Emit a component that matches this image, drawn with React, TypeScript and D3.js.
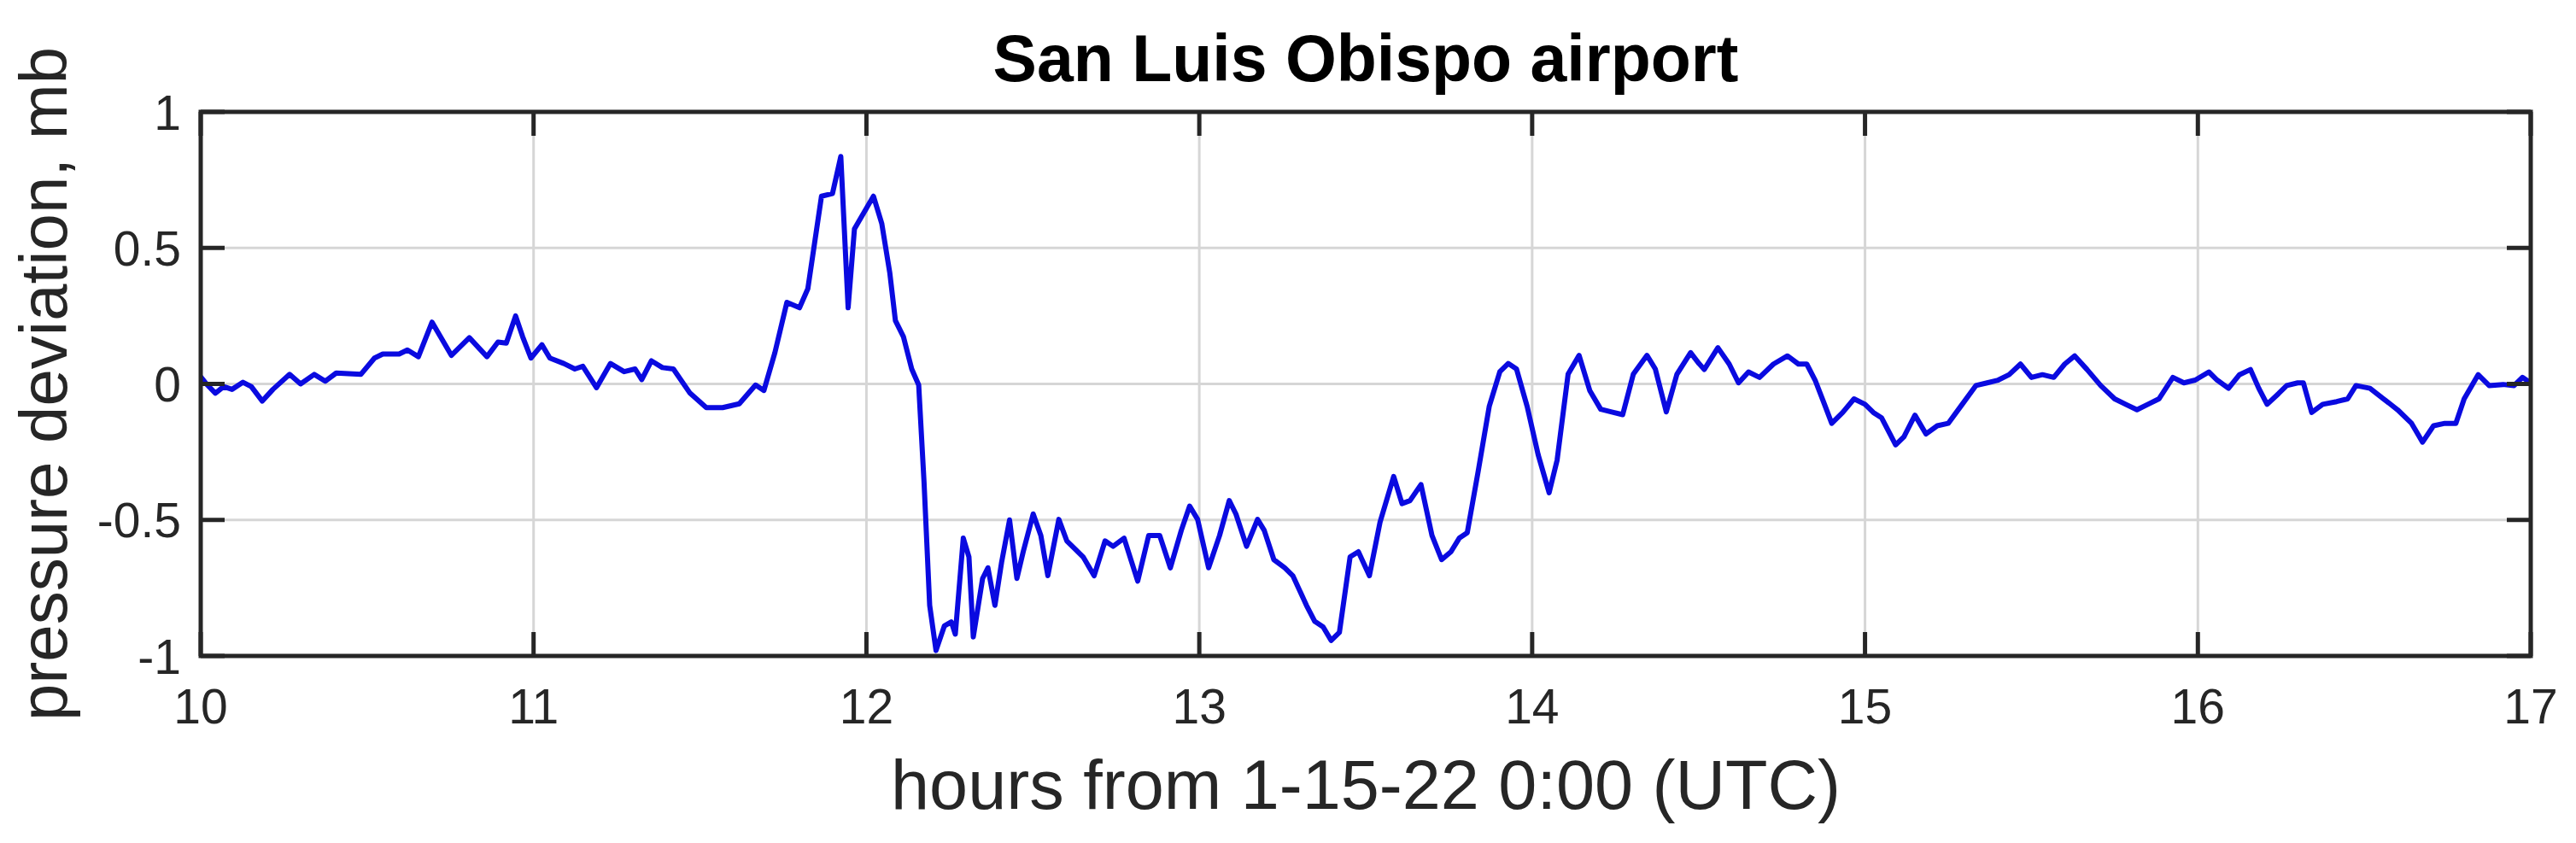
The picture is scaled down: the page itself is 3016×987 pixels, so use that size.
import { line, scaleLinear } from "d3";
import React from "react";

const width = 3016;
const height = 987;
const margin = { top: 131, right: 53, bottom: 219, left: 235 };
const innerWidth = width - margin.left - margin.right;
const innerHeight = height - margin.top - margin.bottom;

const title = "San Luis Obispo airport";
const xLabel = "hours from 1-15-22 0:00 (UTC)";
const yLabel = "pressure deviation, mb";

const xTicks = [10, 11, 12, 13, 14, 15, 16, 17];
const yTicks = [-1, -0.5, 0, 0.5, 1];

// hours vs pressure deviation in mb
const hours = [
  10.0, 10.02, 10.044, 10.069, 10.094, 10.127, 10.152, 10.185, 10.217, 10.267,
  10.3, 10.341, 10.374, 10.407, 10.481, 10.522, 10.547, 10.596, 10.621, 10.654,
  10.695, 10.72, 10.753, 10.807, 10.86, 10.893, 10.918, 10.946, 10.967, 10.992,
  11.025, 11.049, 11.091, 11.124, 11.148, 11.189, 11.231, 11.272, 11.305, 11.325,
  11.354, 11.387, 11.42, 11.47, 11.519, 11.568, 11.618, 11.667, 11.692, 11.725,
  11.761, 11.799, 11.824, 11.865, 11.898, 11.923, 11.945, 11.964, 12.021, 12.046,
  12.07, 12.087, 12.111, 12.136, 12.157, 12.173, 12.19, 12.209, 12.234, 12.255,
  12.267, 12.291, 12.308, 12.321, 12.349, 12.365, 12.386, 12.406, 12.43, 12.452,
  12.471, 12.501, 12.524, 12.545, 12.578, 12.602, 12.627, 12.651, 12.684, 12.717,
  12.741, 12.774, 12.815, 12.848, 12.881, 12.913, 12.946, 12.971, 12.995, 13.028,
  13.061, 13.09, 13.11, 13.142, 13.175, 13.195, 13.224, 13.257, 13.281, 13.322,
  13.347, 13.372, 13.396, 13.421, 13.453, 13.478, 13.511, 13.543, 13.584, 13.609,
  13.633, 13.666, 13.699, 13.728, 13.756, 13.781, 13.805, 13.838, 13.871, 13.903,
  13.928, 13.953, 13.985, 14.018, 14.051, 14.075, 14.108, 14.141, 14.173, 14.206,
  14.239, 14.272, 14.304, 14.345, 14.37, 14.403, 14.435, 14.476, 14.501, 14.517,
  14.558, 14.592, 14.62, 14.65, 14.683, 14.725, 14.767, 14.8, 14.825, 14.85,
  14.875, 14.9, 14.933, 14.967, 15.0, 15.025, 15.05, 15.092, 15.117, 15.15,
  15.183, 15.217, 15.25, 15.292, 15.333, 15.367, 15.4, 15.433, 15.467, 15.5,
  15.533, 15.567, 15.6, 15.63, 15.667, 15.708, 15.75, 15.783, 15.817, 15.85,
  15.883, 15.925, 15.958, 15.992, 16.033, 16.058, 16.092, 16.125, 16.158, 16.183,
  16.208, 16.242, 16.267, 16.3, 16.317, 16.342, 16.375, 16.417, 16.45, 16.475,
  16.517, 16.558, 16.6, 16.642, 16.675, 16.708, 16.742, 16.775, 16.8, 16.842,
  16.875, 16.917, 16.95, 16.975, 17.0,
];
const pressure = [
  0.026, -0.004, -0.034, -0.01, -0.02, 0.006, -0.01, -0.063, -0.02, 0.035,
  0.0, 0.035, 0.01, 0.04, 0.035, 0.095, 0.11, 0.11, 0.125, 0.1,
  0.227, 0.174, 0.105, 0.17, 0.1, 0.154, 0.15, 0.25, 0.174, 0.095,
  0.144, 0.095, 0.075, 0.055, 0.065, -0.014, 0.075, 0.045, 0.055, 0.016,
  0.085, 0.06, 0.055, -0.034, -0.087, -0.087, -0.073, -0.004, -0.024, 0.115,
  0.3, 0.28, 0.35, 0.69, 0.7, 0.836, 0.28, 0.57, 0.69, 0.59,
  0.41, 0.233, 0.174, 0.055, -0.004, -0.36, -0.814, -0.98, -0.89, -0.875,
  -0.92, -0.567, -0.636, -0.93, -0.715, -0.676, -0.814, -0.656, -0.5, -0.715,
  -0.617, -0.478, -0.557, -0.705, -0.498, -0.577, -0.607, -0.636, -0.705, -0.577,
  -0.597, -0.567, -0.725, -0.557, -0.557, -0.676, -0.538, -0.449, -0.498, -0.676,
  -0.557, -0.429, -0.478, -0.597, -0.498, -0.538, -0.646, -0.676, -0.705, -0.814,
  -0.873, -0.893, -0.943, -0.913, -0.636, -0.617, -0.705, -0.508, -0.34, -0.44,
  -0.429, -0.37, -0.557, -0.646, -0.617, -0.567, -0.547, -0.32, -0.083, 0.045,
  0.075, 0.055, -0.083, -0.26, -0.4, -0.28, 0.036, 0.105, -0.024, -0.093,
  -0.103, -0.113, 0.036, 0.105, 0.055, -0.103, 0.036, 0.115, 0.075, 0.053,
  0.133, 0.073, 0.004, 0.044, 0.024, 0.073, 0.103, 0.073, 0.073, 0.014,
  -0.065, -0.145, -0.105, -0.055, -0.075, -0.105, -0.125, -0.224, -0.194, -0.115,
  -0.184, -0.154, -0.145, -0.075, -0.006, 0.004, 0.014, 0.034, 0.073, 0.024,
  0.034, 0.024, 0.073, 0.103, 0.053, -0.006, -0.055, -0.075, -0.095, -0.075,
  -0.055, 0.024, 0.004, 0.014, 0.044, 0.014, -0.016, 0.034, 0.053, -0.016,
  -0.075, -0.036, -0.006, 0.004, 0.004, -0.105, -0.075, -0.065, -0.055, -0.006,
  -0.016, -0.055, -0.095, -0.145, -0.214, -0.154, -0.145, -0.145, -0.055, 0.034,
  -0.006, -0.002, -0.006, 0.024, 0.004,
];

const font = "'Liberation Sans', Arial, Helvetica, sans-serif";
const axisColor = "#262626";
const tickLen = 28;

const App = () => {
  const x = scaleLinear().domain([10, 17]).range([0, innerWidth]);
  const y = scaleLinear().domain([-1, 1]).range([innerHeight, 0]);
  const pathData = line<number>()
    .x((d, i) => x(hours[i]))
    .y((d) => y(d))(pressure);

  return (
    <svg
      width={width}
      height={height}
      style={{ position: "absolute", left: 0, top: 0, background: "#fff" }}
      fontFamily={font}
    >
      <defs>
        <clipPath id="plot-clip">
          <rect width={innerWidth} height={innerHeight} />
        </clipPath>
      </defs>
      <text
        x={margin.left + innerWidth / 2}
        y={95}
        textAnchor="middle"
        fontSize={77}
        fontWeight="bold"
        fill="#000"
      >
        {title}
      </text>
      <g transform={`translate(${margin.left}, ${margin.top})`}>
        {/* grid */}
        {xTicks.map((t) => (
          <line key={`gx${t}`} x1={x(t)} x2={x(t)} y1={0} y2={innerHeight} stroke="#d6d6d6" strokeWidth={3} />
        ))}
        {yTicks.map((t) => (
          <line key={`gy${t}`} x1={0} x2={innerWidth} y1={y(t)} y2={y(t)} stroke="#d6d6d6" strokeWidth={3} />
        ))}
        <path d={pathData ?? ""} fill="none" stroke="#0a0ae0" strokeWidth={6} strokeLinejoin="round" clipPath="url(#plot-clip)" />
        {/* ticks, inward on all four sides */}
        {xTicks.map((t) => (
          <g key={`tx${t}`} stroke={axisColor} strokeWidth={5}>
            <line x1={x(t)} x2={x(t)} y1={innerHeight} y2={innerHeight - tickLen} />
            <line x1={x(t)} x2={x(t)} y1={0} y2={tickLen} />
          </g>
        ))}
        {yTicks.map((t) => (
          <g key={`ty${t}`} stroke={axisColor} strokeWidth={5}>
            <line x1={0} x2={tickLen} y1={y(t)} y2={y(t)} />
            <line x1={innerWidth} x2={innerWidth - tickLen} y1={y(t)} y2={y(t)} />
          </g>
        ))}
        <rect width={innerWidth} height={innerHeight} fill="none" stroke={axisColor} strokeWidth={5} />
        {xTicks.map((t) => (
          <text key={`lx${t}`} x={x(t)} y={innerHeight + 79} textAnchor="middle" fontSize={57} fill={axisColor}>
            {t}
          </text>
        ))}
        {yTicks.map((t) => (
          <text key={`ly${t}`} x={-23} y={y(t)} dy="0.36em" textAnchor="end" fontSize={57} fill={axisColor}>
            {t}
          </text>
        ))}
      </g>
      <text
        x={margin.left + innerWidth / 2}
        y={947}
        textAnchor="middle"
        fontSize={81}
        fill={axisColor}
      >
        {xLabel}
      </text>
      <text
        transform={`translate(78, ${margin.top + innerHeight / 2}) rotate(-90)`}
        textAnchor="middle"
        fontSize={78}
        fill={axisColor}
      >
        {yLabel}
      </text>
    </svg>
  );
};

export default App;
